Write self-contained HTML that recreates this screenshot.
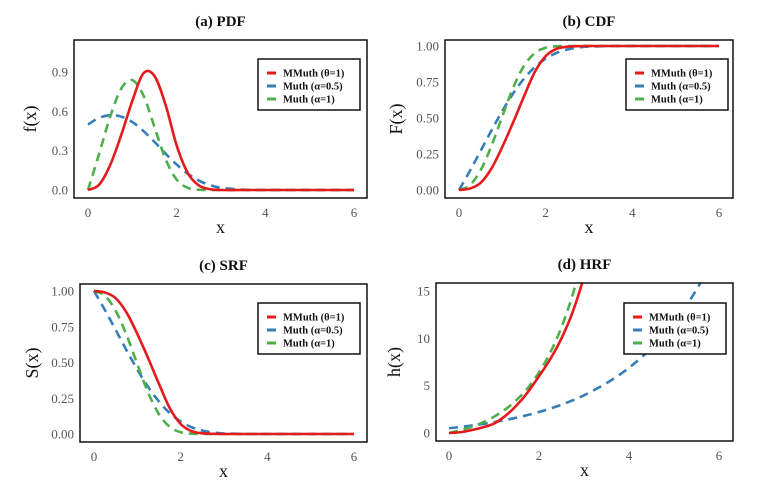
<!DOCTYPE html>
<html><head><meta charset="utf-8"><style>
body{margin:0;background:#fff;}
svg{display:block;font-family:"Liberation Serif",serif;}
</style></head><body>
<svg id="c" width="765" height="481" viewBox="0 0 765 481"></svg>
<script>
const xs = [0,0.25,0.5,0.75,1,1.25,1.5,1.75,2,2.25,2.5,2.75,3,3.5,4,4.5,5,5.5,6];
// PDF
const pdfM = [0,0.04,0.19,0.42,0.68,0.89,0.87,0.65,0.34,0.13,0.035,0.006,0,0,0,0,0,0,0];
const pdfA5 = [0.5,0.55,0.571,0.56,0.518,0.45,0.367,0.277,0.194,0.124,0.072,0.037,0.017,0.0023,0,0,0,0,0];
const pdfA1 = [0,0.275,0.559,0.774,0.838,0.721,0.48,0.235,0.079,0.0165,0.002,0,0,0,0,0,0,0,0];
// CDF
const cdfM = [0,0.01,0.05,0.15,0.30,0.47,0.65,0.82,0.93,0.98,0.995,0.999,1,1,1,1,1,1,1];
const cdfA5 = [0,0.132,0.272,0.414,0.549,0.671,0.773,0.854,0.9125,0.952,0.976,0.9893,0.9958,0.9996,1,1,1,1,1];
const cdfA1 = [0,0.033,0.138,0.307,0.512,0.711,0.862,0.9505,0.9876,0.998,0.9998,1,1,1,1,1,1,1,1];
// Hazard
const hzM = [0,0.08,0.3,0.6,1.0,1.8,2.9,4.3,6.0,7.8,10.0,12.8,16.5,25,40,60,80,100,120];
const hzA5 = [0.5,0.633,0.784,0.955,1.149,1.368,1.617,1.9,2.22,2.58,2.99,3.45,3.98,5.26,6.89,8.99,11.68,15.14,19.6];
const hzA1 = [0,0.284,0.649,1.117,1.718,2.49,3.48,4.75,6.39,8.49,11.18,14.64,19.1,32,53,89,147,243,402];
const xTicks = [0,2,4,6];
const tickA = ["0.0","0.3","0.6","0.9"], tickAv=[0,0.3,0.6,0.9];
const tickB = ["0.00","0.25","0.50","0.75","1.00"], tickBv=[0,0.25,0.5,0.75,1];
const tickD = ["0","5","10","15"], tickDv=[0,5,10,15];
const legendLabels = ["MMuth (θ=1)","Muth (α=0.5)","Muth (α=1)"];
const colors = ["#e41a1c","#377eb8","#4daf4a"];

const NS="http://www.w3.org/2000/svg";
const svg=document.getElementById('c');
function mk(tag,attrs,parent){const e=document.createElementNS(NS,tag);for(const k in attrs)e.setAttribute(k,attrs[k]);(parent||svg).appendChild(e);return e;}
function smoothPath(pts){
  let d='M'+pts[0][0].toFixed(2)+','+pts[0][1].toFixed(2);
  for(let i=0;i<pts.length-1;i++){
    const p0=pts[Math.max(0,i-1)],p1=pts[i],p2=pts[i+1],p3=pts[Math.min(pts.length-1,i+2)];
    const c1x=p1[0]+(p2[0]-p0[0])/6,c1y=p1[1]+(p2[1]-p0[1])/6;
    const c2x=p2[0]-(p3[0]-p1[0])/6,c2y=p2[1]-(p3[1]-p1[1])/6;
    d+='C'+c1x.toFixed(2)+','+c1y.toFixed(2)+' '+c2x.toFixed(2)+','+c2y.toFixed(2)+' '+p2[0].toFixed(2)+','+p2[1].toFixed(2);
  }
  return d;
}

function panel(p){
  const g=mk('g',{});
  
  
  const sx=v=>p.x0+(v)*(p.x6-p.x0)/6;
  const sy=v=>p.y0-(v)*p.yk;
  const cid='clip-'+p.name;
  const cp=mk('clipPath',{id:cid},g);
  mk('rect',{x:p.L,y:p.T,width:p.R-p.L,height:p.B-p.T},cp);
  const t=mk('text',{x:(p.L+p.R)/2,y:p.T-14,'text-anchor':'middle','font-size':15,'font-weight':'bold',fill:'#111'},g);
  t.textContent=p.title;
  
  
  const series=[p.s[1],p.s[2],p.s[0]];
  const cols=[colors[1],colors[2],colors[0]];
  const dashes=['9,6','9,6',''];
  const lg=mk('g',{'clip-path':'url(#'+cid+')'},g);
  series.forEach((arr,i)=>{
    const pts=arr.map((v,j)=>[sx(xs[j]),sy(Math.min(v,p.cap))]);
    const path=mk('path',{d:smoothPath(pts),fill:'none',stroke:cols[i],'stroke-width':2.6,'stroke-dasharray':dashes[i],'stroke-linejoin':'round'},lg);
    
    
  });
  const box=mk('rect',{x:p.L,y:p.T,width:p.R-p.L,height:p.B-p.T,fill:'none',stroke:'#111','stroke-width':1.5},g);
  
  
  xTicks.forEach(v=>{
    const tx=mk('text',{x:sx(v),y:p.B+19,'text-anchor':'middle','font-size':13,fill:'#555'},g);
    tx.textContent=v;
    
    
  });
  p.ytl.forEach((lab,i)=>{
    const ty=mk('text',{x:p.L-6,y:sy(p.ytv[i])+4.5,'text-anchor':'end','font-size':13,fill:'#555'},g);
    ty.textContent=lab;
    
    
  });
  const xl=mk('text',{x:(p.L+p.R)/2,y:p.B+35,'text-anchor':'middle','font-size':18,fill:'#111'},g);
  xl.textContent='x';
  
  
  const yx=p.ylx, yy=(p.T+p.B)/2;
  const yl=mk('text',{x:yx,y:yy,'text-anchor':'middle','font-size':18,fill:'#111',transform:'rotate(-90 '+yx+' '+yy+')'},g);
  yl.textContent=p.ylab;
  
  
  const lgd=mk('g',{},g);
  
  
  mk('rect',{x:p.lx,y:p.ly,width:102,height:51,fill:'#fff',stroke:'#111','stroke-width':1.5},lgd);
  legendLabels.forEach((lab,i)=>{
    const yy2=p.ly+14+i*13;
    mk('line',{x1:p.lx+9,x2:p.lx+18,y1:yy2,y2:yy2,stroke:colors[i],'stroke-width':3},lgd);
    const lt=mk('text',{x:p.lx+25,y:yy2+3.5,'font-size':10.5,'font-weight':'bold',fill:'#111'},lgd);
    lt.textContent=lab;
    
    
  });
}
panel({name:'pdf-panel',title:'(a) PDF',L:74,R:367,T:40,B:198,x0:88,x6:354,y0:190,yk:131.1,cap:5,s:[pdfM,pdfA5,pdfA1],ytl:tickA,ytv:tickAv,ylab:'f(x)',ylx:36,lx:258,ly:59});
panel({name:'cdf-panel',title:'(b) CDF',L:445,R:733,T:40,B:198,x0:459,x6:719,y0:190,yk:144,cap:5,s:[cdfM,cdfA5,cdfA1],ytl:tickB,ytv:tickBv,ylab:'F(x)',ylx:402,lx:626,ly:59});
const S=a=>a.map(v=>1-v);
panel({name:'srf-panel',title:'(c) SRF',L:80,R:367,T:284,B:442,x0:94,x6:354,y0:434,yk:143,cap:5,s:[S(cdfM),S(cdfA5),S(cdfA1)],ytl:tickB,ytv:tickBv,ylab:'S(x)',ylx:38,lx:258,ly:303});
panel({name:'hrf-panel',title:'(d) HRF',L:436,R:733,T:283,B:441,x0:449,x6:719,y0:433,yk:9.47,cap:30,s:[hzM,hzA5,hzA1],ytl:tickD,ytv:tickDv,ylab:'h(x)',ylx:400,lx:624,ly:303});
</script>
</body></html>
